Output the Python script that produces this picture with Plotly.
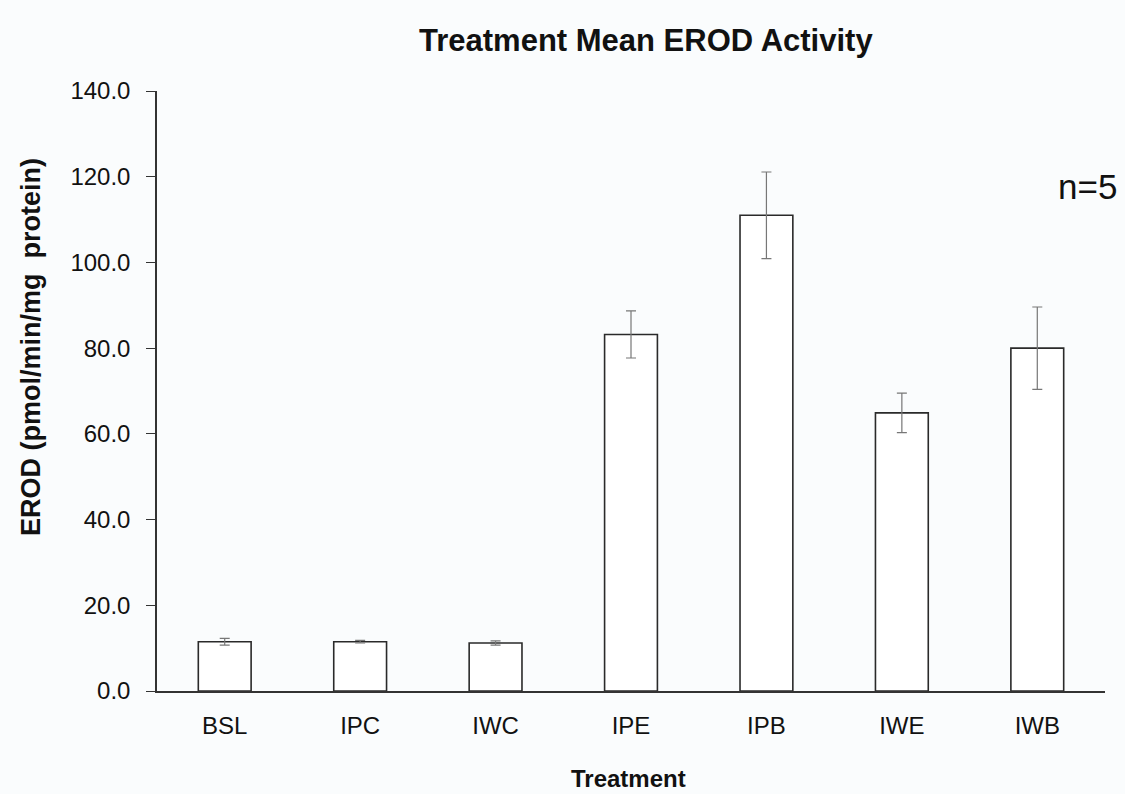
import plotly.graph_objects as go

treatments = ["BSL", "IPC", "IWC", "IPE", "IPB", "IWE", "IWB"]
mean_erod = [11.5, 11.5, 11.2, 83.2, 111.0, 64.9, 80.0]
err_erod = [0.8, 0.3, 0.5, 5.5, 10.1, 4.6, 9.6]
y_ticks = [0, 20, 40, 60, 80, 100, 120, 140]

FONT = "Liberation Sans, Arial, sans-serif"
TXT = "#111111"

W, H = 1125, 794
L, R, T, B = 157, 20, 91, 103
PW, PH = W - L - R, H - T - B


def px_x(x):
    return (x - L) / PW


def px_y(y):
    return (H - B - y) / PH


fig = go.Figure()
fig.add_trace(go.Bar(
    x=list(range(len(treatments))),
    y=mean_erod,
    width=0.39,
    marker=dict(color="white", line=dict(color="#2a2a2a", width=1.6)),
    error_y=dict(type="data", array=err_erod, visible=True,
                 color="#777777", thickness=1.2, width=5),
    showlegend=False,
))

fig.update_layout(
    width=W, height=H,
    margin=dict(l=L, r=R, t=T, b=B),
    paper_bgcolor="#fafcfd",
    plot_bgcolor="#fafcfd",
    font=dict(family=FONT, color=TXT, size=24),
    xaxis=dict(
        range=[-0.5, 6.5],
        tickmode="array",
        tickvals=list(range(len(treatments))),
        ticktext=treatments,
        showgrid=False, zeroline=False,
        showline=True, linecolor="#333333", linewidth=1.5,
        ticks="", ticklabelstandoff=12,
        tickfont=dict(size=24, color=TXT),
    ),
    yaxis=dict(
        range=[0, 140],
        tickmode="array",
        tickvals=y_ticks,
        ticktext=[f"{v:.1f}" for v in y_ticks],
        showgrid=False, zeroline=False,
        showline=True, linecolor="#333333", linewidth=1.5,
        ticks="outside", ticklen=9, tickcolor="#333333", tickwidth=1.2,
        ticklabelstandoff=11,
        tickfont=dict(size=24, color=TXT),
    ),
    annotations=[
        dict(text="<b>Treatment Mean EROD Activity</b>", xref="paper", yref="paper",
             x=px_x(646), y=px_y(40), xanchor="center", yanchor="middle", showarrow=False,
             font=dict(size=31, color=TXT, family=FONT)),
        dict(text="<b>Treatment</b>", xref="paper", yref="paper",
             x=px_x(628), y=px_y(778), xanchor="center", yanchor="middle", showarrow=False,
             font=dict(size=24, color=TXT, family=FONT)),
        dict(text="<b>EROD (pmol/min/mg  protein)</b>", xref="paper", yref="paper",
             x=px_x(31), y=px_y(347), xanchor="center", yanchor="middle", showarrow=False,
             textangle=-90, font=dict(size=27, color=TXT, family=FONT)),
        dict(text="n=5", xref="paper", yref="paper",
             x=px_x(1056), y=px_y(186), xanchor="left", yanchor="middle", showarrow=False,
             font=dict(size=35, color=TXT, family=FONT)),
    ],
)

fig.write_html("out.html", config={"displayModeBar": False},
               post_script="document.body.style.margin='0px';document.body.style.overflow='hidden';")
